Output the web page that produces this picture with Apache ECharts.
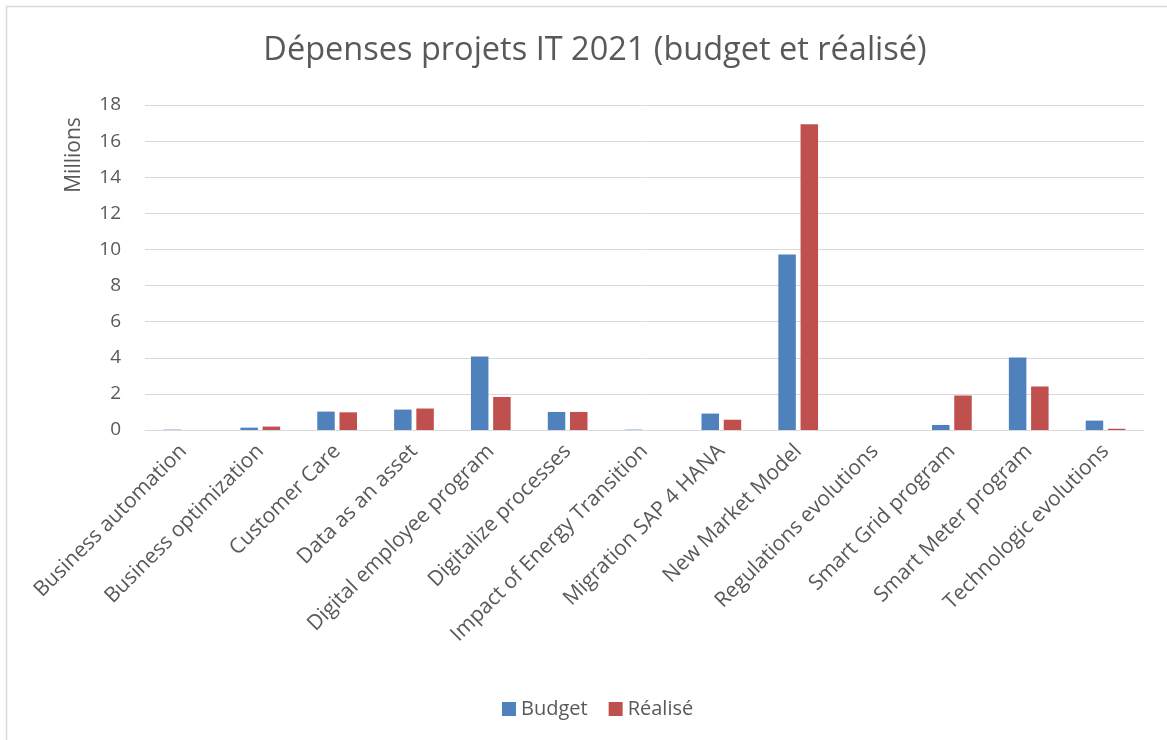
<!DOCTYPE html>
<html>
<head>
<meta charset="utf-8">
<script src="https://cdn.jsdelivr.net/npm/echarts@6/dist/echarts.min.js"></script>
<style>
  html, body { margin: 0; padding: 0; background: #fff; }
  #chart { width: 1167px; height: 740px; }
</style>
</head>
<body>
<div id="chart"></div>
<script>
// Projects and their 2021 IT spend (in millions)
const categories = [
  'Business automation', 'Business optimization', 'Customer Care', 'Data as an asset',
  'Digital employee program', 'Digitalize processes', 'Impact of Energy Transition',
  'Migration SAP 4 HANA', 'New Market Model', 'Regulations evolutions',
  'Smart Grid program', 'Smart Meter program', 'Technologic evolutions'
];
const budget  = [0.02, 0.13, 1.02, 1.13, 4.07, 1.00, 0.02, 0.91, 9.72, 0, 0.28, 4.02, 0.52];
const realise = [0.00, 0.19, 0.98, 1.19, 1.83, 1.00, 0.00, 0.57, 16.93, 0, 1.91, 2.41, 0.07];
const yTicks = [0, 2, 4, 6, 8, 10, 12, 14, 16, 18];

const FONT = '"Open Sans"';
const TEXT = '#595959';

const chart = echarts.init(document.getElementById('chart'));
chart.setOption({
  backgroundColor: '#fff',
  animation: false,
  title: {
    text: 'Dépenses projets IT 2021 (budget et réalisé)',
    left: 590,
    textAlign: 'center',
    top: 29,
    textStyle: { fontFamily: FONT, fontSize: 32.5, fontWeight: 'normal', color: TEXT }
  },
  legend: {
    bottom: 16,
    left: 497,
    itemWidth: 14,
    itemHeight: 14,
    itemGap: 21,
    icon: 'rect',
    textStyle: { fontFamily: FONT, fontSize: 20, color: TEXT }
  },
  grid: { left: 145, right: 23, top: 105, bottom: 310 },
  xAxis: {
    type: 'category',
    data: categories,
    axisTick: { show: false },
    axisLine: { lineStyle: { color: '#D9D9D9', width: 1 } },
    axisLabel: {
      interval: 0,
      rotate: 45,
      margin: 18,
      fontFamily: FONT,
      fontSize: 21,
      color: TEXT
    }
  },
  yAxis: {
    type: 'value',
    min: yTicks[0],
    max: yTicks[yTicks.length - 1],
    interval: 2,
    axisLine: { show: false },
    axisTick: { show: false },
    splitLine: { lineStyle: { color: '#D9D9D9', width: 1 } },
    axisLabel: { margin: 24, fontFamily: FONT, fontSize: 19, color: TEXT }
  },
  graphic: [
    {
      type: 'rect',
      shape: { x: 6.5, y: 6.5, width: 1300, height: 1000 },
      style: { fill: 'none', stroke: '#D9D9D9', lineWidth: 1.5 },
      silent: true
    },
    {
      type: 'text',
      x: 74,
      y: 155,
      rotation: Math.PI / 2,
      style: {
        text: 'Millions',
        font: '21px ' + FONT,
        fill: TEXT,
        align: 'center',
        verticalAlign: 'middle'
      }
    }
  ],
  series: [
    {
      name: 'Budget',
      type: 'bar',
      data: budget,
      barWidth: 17.5,
      barGap: '27%',
      itemStyle: { color: '#4F81BD' }
    },
    {
      name: 'Réalisé',
      type: 'bar',
      data: realise,
      barWidth: 17.5,
      itemStyle: { color: '#C0504D' }
    }
  ]
});
</script>
</body>
</html>
